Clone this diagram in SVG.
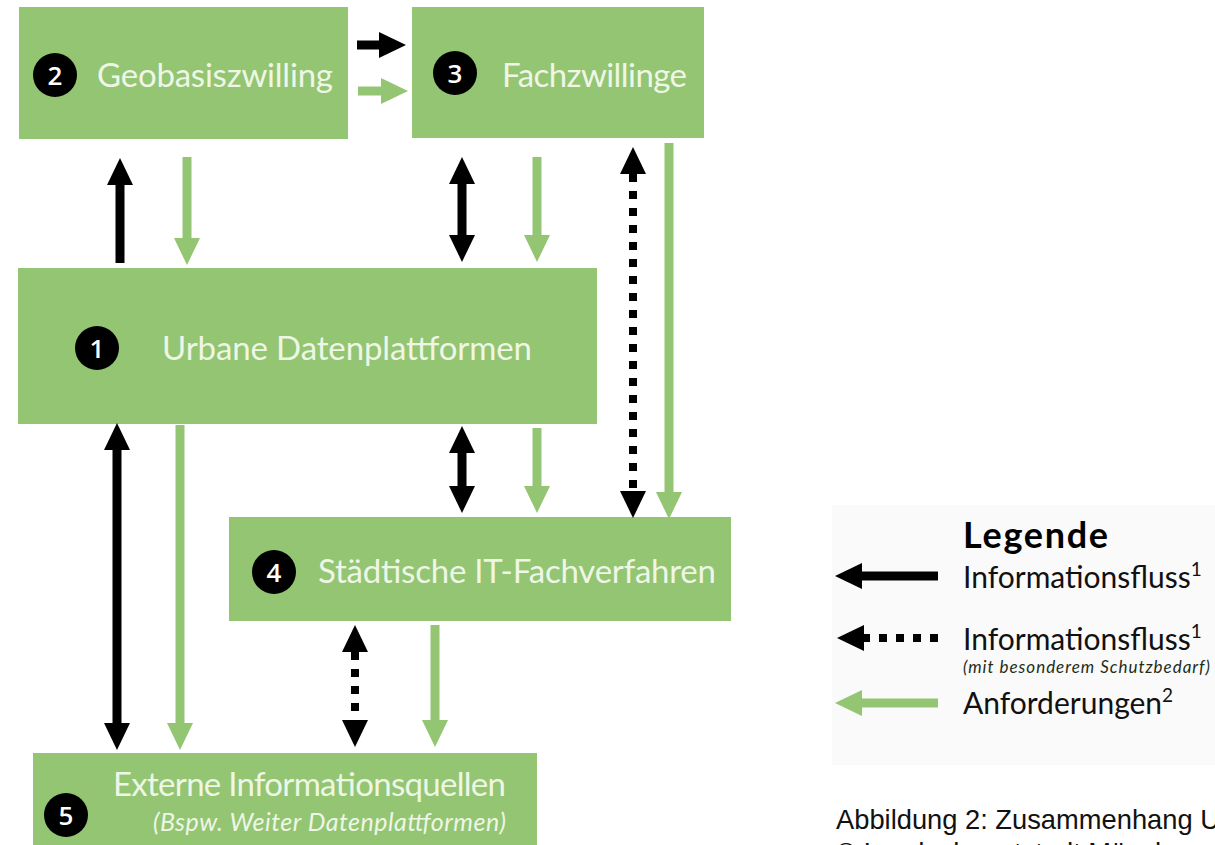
<svg xmlns="http://www.w3.org/2000/svg" width="1215" height="845" viewBox="0 0 1215 845">
  <style>
    .box { fill: #93c572; }
    .lbl { font-family: Lato, "Open Sans", sans-serif; font-size: 33px; fill: #eef6e6; }
    .sub { font-family: Lato, "Open Sans", sans-serif; font-size: 25px; font-style: italic; fill: #eef6e6; }
    .badge { fill: #000; }
    .num { font-family: "Open Sans", Lato, sans-serif; font-size: 26px; font-weight: 600; fill: #fff; text-anchor: middle; dominant-baseline: central; }
    .k { stroke: #000; stroke-width: 9; fill: none; }
    .kd { stroke: #000; stroke-width: 8; fill: none; stroke-dasharray: 8 9; }
    .g { stroke: #93c572; stroke-width: 9; fill: none; }
    .leg { font-family: Lato, "Open Sans", sans-serif; font-size: 30px; fill: #111; }
    .sup { font-size: 19px; }
    .legh { font-family: Lato, "Open Sans", sans-serif; font-size: 36px; font-weight: 700; fill: #000; }
    .legs { font-family: Lato, "Open Sans", sans-serif; font-size: 17px; font-style: italic; fill: #1e2d17; }
    .cap { font-family: "Liberation Sans", Arial, sans-serif; font-size: 27.3px; fill: #111; }
  </style>
  <defs>
    <marker id="hk" markerUnits="userSpaceOnUse" markerWidth="28" markerHeight="26" refX="0" refY="13" orient="auto-start-reverse" overflow="visible">
      <path d="M0,0 L27,13 L0,26 z" fill="#000"/>
    </marker>
    <marker id="hg" markerUnits="userSpaceOnUse" markerWidth="28" markerHeight="26" refX="0" refY="13" orient="auto-start-reverse" overflow="visible">
      <path d="M0,0 L27,13 L0,26 z" fill="#93c572"/>
    </marker>
  </defs>

  <rect width="1215" height="845" fill="#fff"/>

  <!-- nodes -->
  <g id="node-2">
    <rect class="box" x="19" y="7" width="329" height="132"/>
    <circle class="badge" cx="55" cy="75" r="22"/>
    <text class="num" x="55" y="75">2</text>
    <text class="lbl" x="97" y="87" textLength="236">Geobasiszwilling</text>
  </g>
  <g id="node-3">
    <rect class="box" x="412" y="7" width="292" height="131"/>
    <circle class="badge" cx="455" cy="73" r="22"/>
    <text class="num" x="455" y="73">3</text>
    <text class="lbl" x="502" y="87" textLength="185">Fachzwillinge</text>
  </g>
  <g id="node-1">
    <rect class="box" x="18" y="268" width="579" height="156"/>
    <circle class="badge" cx="97" cy="348" r="22"/>
    <text class="num" x="97" y="348">1</text>
    <text class="lbl" x="162" y="360" textLength="370">Urbane Datenplattformen</text>
  </g>
  <g id="node-4">
    <rect class="box" x="229" y="517" width="502" height="104"/>
    <circle class="badge" cx="274" cy="572" r="22"/>
    <text class="num" x="274" y="572">4</text>
    <text class="lbl" x="318" y="583" textLength="398">Städtische IT-Fachverfahren</text>
  </g>
  <g id="node-5">
    <rect class="box" x="33" y="753" width="504" height="110"/>
    <circle class="badge" cx="66" cy="815" r="22"/>
    <text class="num" x="66" y="815">5</text>
    <text class="lbl" x="113" y="796" textLength="393">Externe Informationsquellen</text>
    <text class="sub" x="153" y="831" textLength="353">(Bspw. Weiter Datenplattformen)</text>
  </g>

  <!-- connectors -->
  <g id="connectors">
    <line class="k" x1="357" y1="45" x2="379" y2="45" marker-end="url(#hk)"/>
    <line class="g" x1="358" y1="91" x2="381" y2="91" marker-end="url(#hg)"/>

    <line class="k" x1="120" y1="263" x2="120" y2="185" marker-end="url(#hk)"/>
    <line class="g" x1="187" y1="157" x2="187" y2="238" marker-end="url(#hg)"/>

    <line class="k" x1="462" y1="184" x2="462" y2="235" marker-start="url(#hk)" marker-end="url(#hk)"/>
    <line class="g" x1="537" y1="157" x2="537" y2="235" marker-end="url(#hg)"/>

    <line class="kd" x1="633" y1="174" x2="633" y2="491" marker-start="url(#hk)" marker-end="url(#hk)"/>
    <line class="g" x1="669" y1="143" x2="669" y2="492" marker-end="url(#hg)"/>

    <line class="k" x1="117" y1="450" x2="117" y2="723" marker-start="url(#hk)" marker-end="url(#hk)"/>
    <line class="g" x1="180" y1="425" x2="180" y2="723" marker-end="url(#hg)"/>

    <line class="k" x1="462" y1="453" x2="462" y2="486" marker-start="url(#hk)" marker-end="url(#hk)"/>
    <line class="g" x1="537" y1="428" x2="537" y2="486" marker-end="url(#hg)"/>

    <line class="kd" x1="355" y1="652" x2="355" y2="720" marker-start="url(#hk)" marker-end="url(#hk)"/>
    <line class="g" x1="435" y1="625" x2="435" y2="720" marker-end="url(#hg)"/>
  </g>

  <!-- legend -->
  <g id="legend">
    <rect x="832" y="505" width="383" height="260" fill="#fafafa"/>
    <text class="legh" x="963" y="548" textLength="145">Legende</text>
    <line class="k" x1="938" y1="576" x2="862" y2="576" marker-end="url(#hk)"/>
    <text class="leg" x="963" y="588">Informationsfluss<tspan class="sup" dy="-12">1</tspan></text>
    <line class="kd" x1="938" y1="638" x2="864" y2="638" marker-end="url(#hk)" stroke-dasharray="8 9.5"/>
    <text class="leg" x="963" y="650">Informationsfluss<tspan class="sup" dy="-12">1</tspan></text>
    <text class="legs" x="963" y="673" textLength="247">(mit besonderem Schutzbedarf)</text>
    <line class="g" x1="938" y1="703" x2="862" y2="703" marker-end="url(#hg)"/>
    <text class="leg" x="963" y="714">Anforderungen<tspan class="sup" dy="-12">2</tspan></text>
  </g>

  <!-- caption, running off the right and bottom edges -->
  <g id="caption">
    <text class="cap" x="836" y="829">Abbildung 2: Zusammenhang Urbaner Datenplattformen</text>
    <text class="cap" x="836" y="862">© Landeshauptstadt München, Geoinformation und Lizenz</text>
  </g>
</svg>
